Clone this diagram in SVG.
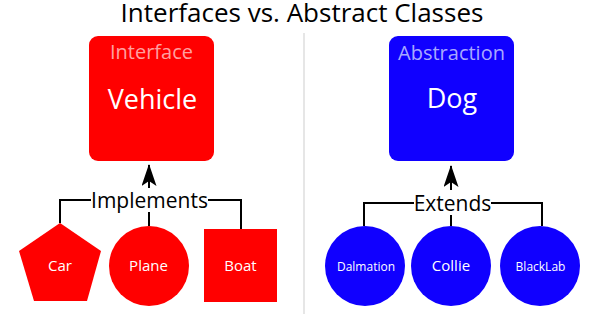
<svg xmlns="http://www.w3.org/2000/svg" width="600" height="314" viewBox="0 0 600 314">
<defs>
<style>
text{font-family:"Open Sans","Noto Sans","Liberation Sans",sans-serif;text-anchor:middle}
.red{fill:#ff0000}
.blue{fill:#1000ff}
.conn{fill:none;stroke:#000;stroke-width:2}
.lbl{fill:#000;font-size:21px}
.sub{font-size:20px}
.big{font-size:27px;fill:#fff}
.child{font-size:15px;fill:#fff}
.small{font-size:12px;fill:#fff}
</style>
<marker id="arr" viewBox="0 0 22 15" refX="21" refY="7.5" markerWidth="22" markerHeight="15" markerUnits="userSpaceOnUse" orient="auto">
<path d="M22,7.5 L0,0 L5,7.5 L0,15 Z" fill="#000"/>
</marker>
</defs>
<rect width="600" height="314" fill="#fff"/>
<text x="302" y="22" font-size="26" fill="#000" id="title">Interfaces vs. Abstract Classes</text>
<line x1="304" y1="33" x2="304" y2="314" stroke="#e6e6e6" stroke-width="2"/>

<g id="connectors">
<path class="conn" d="M60,223 V200 H91 M208,200 H241 V229"/>
<line class="conn" x1="149" y1="226" x2="149" y2="212"/>
<line class="conn" x1="149" y1="188" x2="149" y2="165" marker-end="url(#arr)"/>
<path class="conn" d="M364,226 V203 H414 M491,203 H542 V226"/>
<line class="conn" x1="451" y1="226" x2="451" y2="215"/>
<line class="conn" x1="451" y1="190" x2="451" y2="166" marker-end="url(#arr)"/>
<text class="lbl" x="149.5" y="207.5">Implements</text>
<text class="lbl" x="452.5" y="211">Extends</text>
</g>

<g id="vehicle">
<rect class="red" x="89" y="36" width="125" height="125" rx="9"/>
<text class="sub" x="151.5" y="58.5" fill="#ffa0a0">Interface</text>
<text class="big" x="152.5" y="109">Vehicle</text>
</g>
<g id="car">
<polygon class="red" points="60,223 101,251 87,301 34,301 19,251"/>
<text class="child" x="60" y="270.5">Car</text>
</g>
<g id="plane">
<circle class="red" cx="149" cy="266" r="40"/>
<text class="child" x="148.5" y="270.5">Plane</text>
</g>
<g id="boat">
<rect class="red" x="204" y="229" width="73" height="73"/>
<text class="child" x="240.5" y="270.5">Boat</text>
</g>

<g id="dog">
<rect class="blue" x="389" y="36" width="125" height="125" rx="9"/>
<text class="sub" x="451.5" y="60" fill="#a8a8ff">Abstraction</text>
<text class="big" x="452" y="108">Dog</text>
</g>
<g id="dalmation">
<circle class="blue" cx="365" cy="266" r="40"/>
<text class="small" x="366" y="270.5">Dalmation</text>
</g>
<g id="collie">
<circle class="blue" cx="451" cy="266" r="40"/>
<text class="child" x="451" y="270.5">Collie</text>
</g>
<g id="blacklab">
<circle class="blue" cx="540" cy="266" r="40"/>
<text class="small" x="540.5" y="270.5">BlackLab</text>
</g>
</svg>
